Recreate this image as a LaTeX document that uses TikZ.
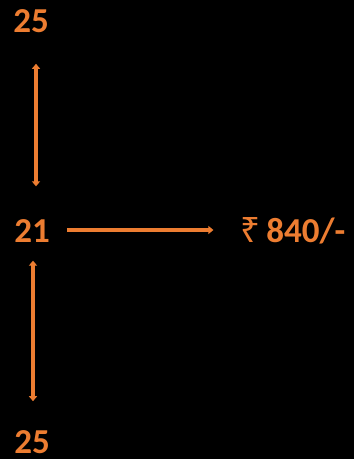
\documentclass[tikz,border=0pt]{standalone}
\usepackage{fontspec}
\setmainfont{Carlito}
\newfontfamily\rupeefont{Noto Sans}
\usetikzlibrary{arrows.meta, positioning}
\definecolor{accent}{RGB}{237,125,49}

\tikzset{
  num/.style={inner sep=0pt, text=accent, font=\fontsize{35}{40}\selectfont\bfseries},
  link/.style={accent, line width=3.4pt, {Triangle[width=8pt,length=5pt]}-{Triangle[width=8pt,length=5pt]}},
  flow/.style={accent, line width=3.4pt, -{Triangle[width=8pt,length=5pt]}}
}

\begin{document}
\begin{tikzpicture}[x=1pt, y=1pt]
  % background and page size
  \fill[black] (0,0) rectangle (354,459);
  \useasboundingbox (0,0) rectangle (354,459);

  % values
  \node[num] (top) at (31,438) {25};
  \node[num] (mid) at (32,228) {21};
  \node[num] (bot) at (32,17) {25};
  \node[num] (price) at (293,228) {{\rupeefont ₹}\,840/-};

  % connectors
  \draw[link] ([xshift=5pt, yshift=-31pt]top.south) -- ([xshift=4pt, yshift=33pt]mid.north);
  \draw[link] ([xshift=1pt, yshift=-18pt]mid.south) -- ([xshift=1pt, yshift=29pt]bot.north);
  \draw[flow] ([xshift=17pt, yshift=1pt]mid.east) -- ([xshift=-27pt, yshift=1pt]price.west);
\end{tikzpicture}
\end{document}
